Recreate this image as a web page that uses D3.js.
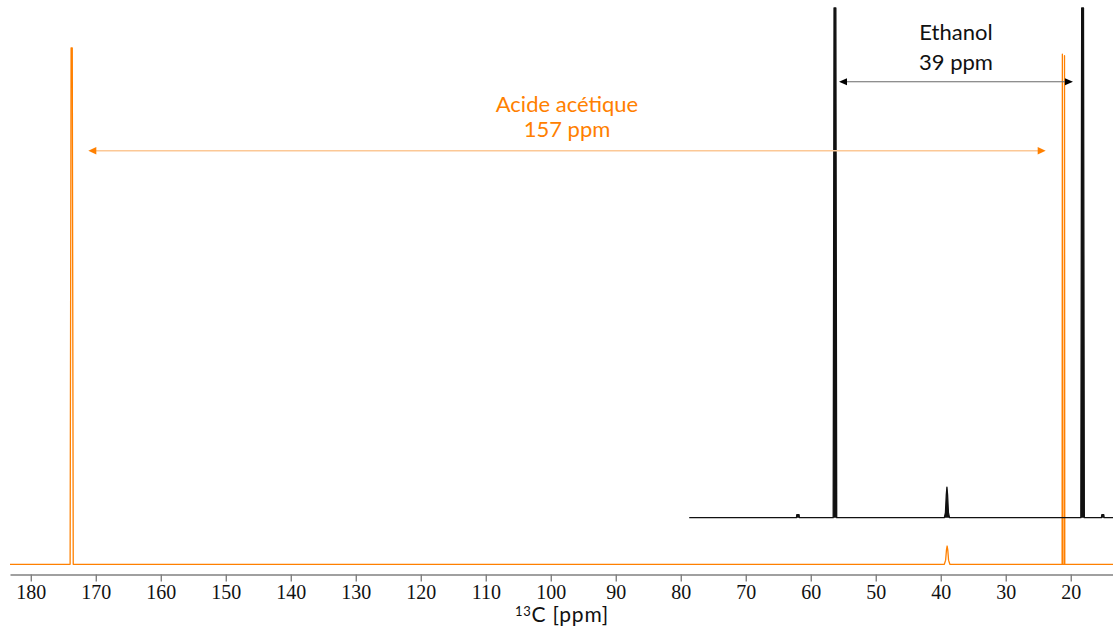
<!DOCTYPE html>
<html>
<head>
<meta charset="utf-8">
<script src="https://cdn.jsdelivr.net/npm/d3@7"></script>
<style>
  html, body { margin: 0; padding: 0; background: #fff; }
  svg { display: block; }
</style>
</head>
<body>
<svg id="chart" width="1113" height="639"></svg>
<script>
// ---- Data (ppm, relative intensity) ----
const ppmDomain = [183.2, 13.5];
const tickValues = [180, 170, 160, 150, 140, 130, 120, 110, 100, 90, 80, 70, 60, 50, 40, 30, 20];

// Acetic acid spectrum (orange)
const aceticSpectrum = [
  [183.2, 0], [173.95, 0], [173.8, 100], [173.62, 100], [173.47, 0],
  [39.45, 0], [39.25, 0.8], [39.12, 2.8], [39.02, 3.54], [38.92, 2.8], [38.8, 0.8], [38.6, 0],
  [21.33, 0], [21.29, 98.8], [21.25, 0], [21.0, 0], [20.96, 98.5], [20.92, 0],
  [13.5, 0]
];

// Ethanol spectrum (black)
const ethanolSpectrum = [
  [78.7, 0], [62.2, 0], [62.15, 0.6], [61.8, 0.6], [61.75, 0],
  [56.55, 0], [56.42, 100], [56.14, 100], [56.01, 0],
  [39.45, 0], [39.28, 1], [39.15, 4.5], [39.05, 6.0], [38.95, 4.5], [38.82, 1], [38.65, 0],
  [18.45, 0], [18.32, 100], [18.04, 100], [17.91, 0],
  [15.28, 0], [15.22, 0.6], [14.92, 0.6], [14.86, 0],
  [13.5, 0]
];

// Annotation arrows (ppm from, ppm to) and labels
const ethanolArrow = [55.66, 19.66];
const ethanolLabels = ["Ethanol", "39 ppm"];
const aceticArrow = [171.15, 23.86];
const aceticLabels = ["Acide acétique", "157 ppm"];

// ---- Drawing ----
const svg = d3.select("#chart");
const orange = "#ff8000";

const x = d3.scaleLinear().domain(ppmDomain).range([10, 1113]);
const yAcetic = d3.scaleLinear().domain([0, 100]).range([564.3, 48]);
const yEthanol = d3.scaleLinear().domain([0, 100]).range([517.7, 8]);

// Axis
const axisY = 574.5;
const axis = d3.axisBottom(x).tickValues(tickValues).tickSize(7).tickSizeOuter(0).tickPadding(3);
const gAxis = svg.append("g").attr("transform", `translate(0,${axisY})`).call(axis);
gAxis.attr("font-family", null);
gAxis.select(".domain").attr("stroke", "#808080").attr("stroke-width", 1.6);
gAxis.selectAll(".tick line").attr("stroke", "#808080").attr("stroke-width", 1.4);
gAxis.selectAll(".tick text")
  .style("font-family", "'Liberation Serif'")
  .style("font-size", "20px")
  .attr("fill", "#111");

// Spectra
const lineA = d3.line().x(d => x(d[0])).y(d => yAcetic(d[1]));
const lineE = d3.line().x(d => x(d[0])).y(d => yEthanol(d[1]));

svg.append("path").datum(aceticSpectrum)
  .attr("d", lineA).attr("fill", "none").attr("stroke", orange)
  .attr("stroke-width", 1.3).attr("stroke-linejoin", "round");

svg.append("path").datum(ethanolSpectrum)
  .attr("d", lineE).attr("fill", "#111").attr("stroke", "#111")
  .attr("stroke-width", 1.3).attr("stroke-linejoin", "round");

// Arrows
function drawArrow(range, yPos, lineColor, headColor, lineWidth, headLen, headHalf) {
  const x1 = x(range[0]), x2 = x(range[1]);
  svg.append("line")
    .attr("x1", x1 + headLen - 1).attr("x2", x2 - headLen + 1)
    .attr("y1", yPos).attr("y2", yPos)
    .attr("stroke", lineColor).attr("stroke-width", lineWidth);
  svg.append("path")
    .attr("d", `M${x1},${yPos} L${x1 + headLen},${yPos - headHalf} L${x1 + headLen},${yPos + headHalf} Z`)
    .attr("fill", headColor);
  svg.append("path")
    .attr("d", `M${x2},${yPos} L${x2 - headLen},${yPos - headHalf} L${x2 - headLen},${yPos + headHalf} Z`)
    .attr("fill", headColor);
  return (x1 + x2) / 2;
}

const cxE = drawArrow(ethanolArrow, 81.7, "#6a6a6a", "#000", 1.1, 8, 3.5);
const cxA = drawArrow(aceticArrow, 150.7, "#fcc896", orange, 1.6, 8, 3.8);

const labelFont = "'Lato'";
function label(xPos, yPos, txt, color) {
  svg.append("text").attr("x", xPos).attr("y", yPos).attr("text-anchor", "middle")
    .style("font-family", labelFont).style("font-size", "22px").attr("fill", color).text(txt);
}
label(cxE, 39.5, ethanolLabels[0], "#111");
label(cxE, 70, ethanolLabels[1], "#111");
label(cxA, 111.5, aceticLabels[0], orange);
label(cxA, 136.5, aceticLabels[1], orange);

// Axis title
const title = svg.append("text").attr("x", 562).attr("y", 622).attr("text-anchor", "middle")
  .style("font-family", labelFont).style("font-size", "21px").style("letter-spacing", "0.8px")
  .attr("fill", "#111");
title.append("tspan").style("font-size", "13px").attr("dy", -6).text("13");
title.append("tspan").attr("dy", 6).text("C [ppm]");
</script>
</body>
</html>
